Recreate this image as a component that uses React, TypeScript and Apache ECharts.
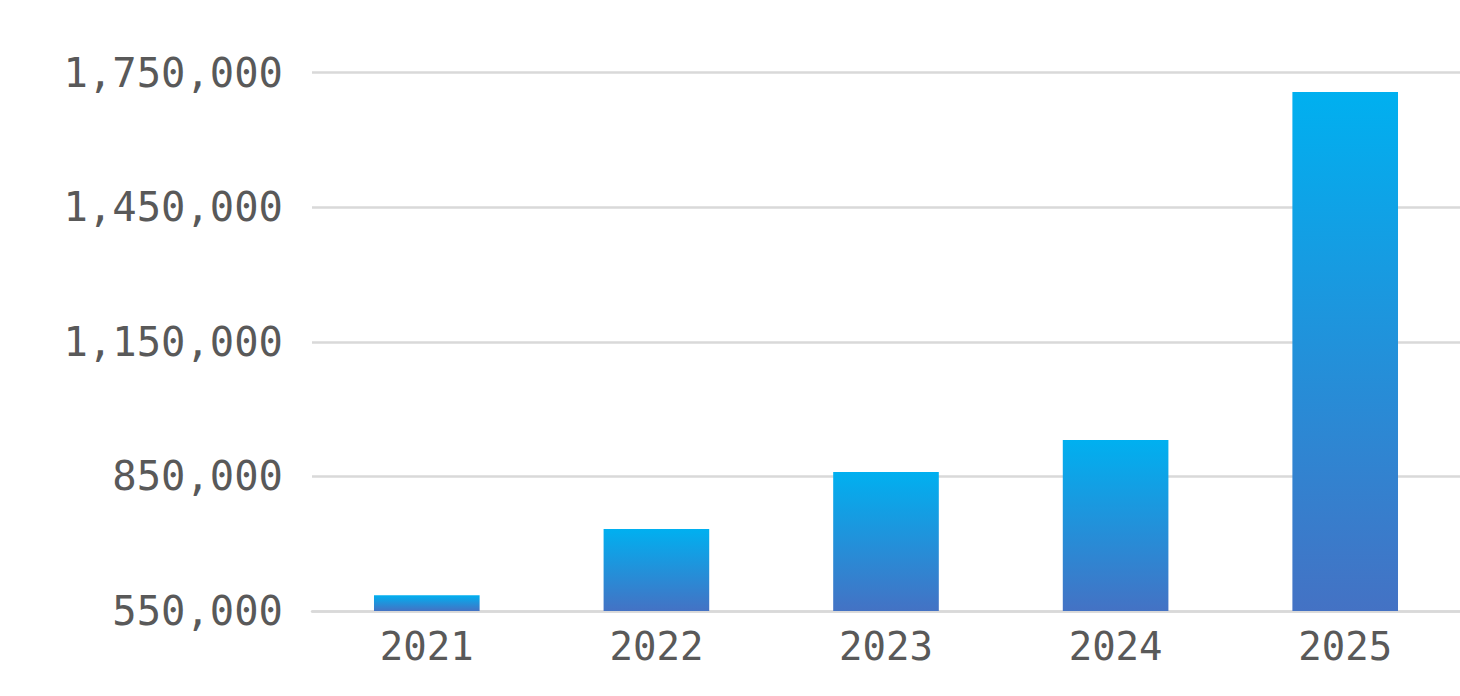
import React, { useEffect, useRef } from "react";
import * as echarts from "echarts";

const categories = ["2021", "2022", "2023", "2024", "2025"];
const values = [585000, 733000, 860000, 931000, 1707000];
const axisMin = 550000;
const axisMax = 1750000;
const axisStep = 300000;

export default function App() {
  const ref = useRef<HTMLDivElement>(null);
  useEffect(() => {
    if (!ref.current) return;
    const chart = echarts.init(ref.current, null, { renderer: "svg" });
    const font = "'DejaVu Sans Mono', monospace";
    chart.setOption({
      animation: false,
      backgroundColor: "#ffffff",
      grid: { left: 312, right: 0, top: 72.7, bottom: 85, containLabel: false },
      xAxis: {
        type: "category",
        data: categories,
        axisTick: { show: false },
        axisLine: { show: true, lineStyle: { color: "#D9D9D9", width: 2.5 } },
        axisLabel: { color: "#595959", fontSize: 39, fontFamily: font, margin: 16 },
      },
      yAxis: {
        type: "value",
        min: 0,
        max: axisMax - axisMin,
        interval: axisStep,
        axisLine: { show: false },
        axisTick: { show: false },
        splitLine: { lineStyle: { color: "#D9D9D9", width: 2.5 } },
        axisLabel: {
          color: "#595959",
          fontSize: 40.5,
          fontFamily: font,
          margin: 29,
          formatter: (v: number) => (v + axisMin).toLocaleString("en-US"),
        },
      },
      series: [
        {
          type: "bar",
          data: values.map((v) => v - axisMin),
          barWidth: "46%",
          itemStyle: {
            color: new echarts.graphic.LinearGradient(0, 0, 0, 1, [
              { offset: 0, color: "#00B0F0" },
              { offset: 1, color: "#4472C4" },
            ]),
          },
        },
      ],
    });
    return () => chart.dispose();
  }, []);
  return (
    <div
      ref={ref}
      style={{ position: "fixed", left: 0, top: 0, width: 1460, height: 696 }}
    />
  );
}
